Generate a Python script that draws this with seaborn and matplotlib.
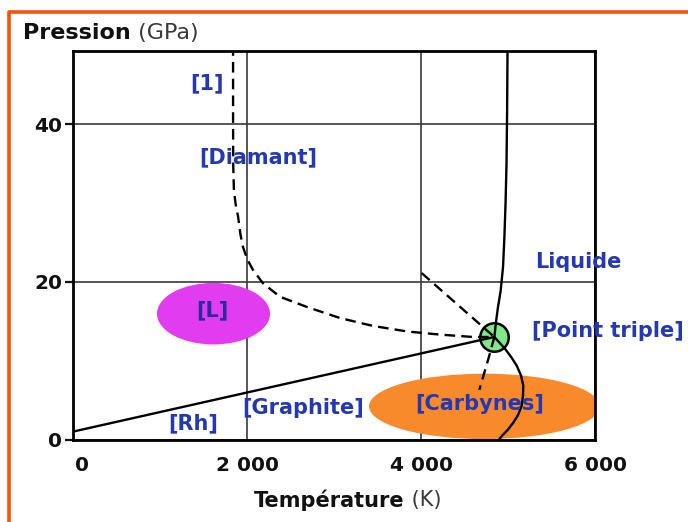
import matplotlib
matplotlib.use("Agg")
import matplotlib.pyplot as plt
from matplotlib.patches import Ellipse
from matplotlib.transforms import ScaledTranslation
import seaborn as sns
import pandas as pd

# ---- data ----
diamant_T = [1840, 1840, 1842, 1850, 1870, 1897, 1925, 1954, 2005, 2069, 2184, 2379,
             2690, 3069, 3448, 3839, 4218, 4598, 4843]
diamant_P = [50.0, 40.0, 34.7, 31.5, 29.8, 28.3, 26.0, 24.4, 22.8, 21.5, 19.8, 18.1,
             16.8, 15.4, 14.4, 13.7, 13.3, 13.0, 13.0]

upper_dash_T = [4008, 4843]
upper_dash_P = [21.1, 13.0]

lower_dash_T = [4843, 4774, 4670]
lower_dash_P = [13.0, 10.2, 6.3]

melt_T = [4995, 4990, 4983, 4972, 4958, 4943, 4915, 4885, 4862, 4843, 4966, 5040, 5100,
          5150, 5176, 5172, 5157, 5115, 5061, 4995, 4928, 4859]
melt_P = [50.0, 42.0, 35.0, 30.0, 25.5, 21.9, 18.8, 16.8, 14.9, 13.0, 11.5, 10.4, 9.37,
          8.1, 6.82, 5.5, 4.27, 3.1, 2.13, 1.2, 0.43, -0.6]

graphite_T = [0, 4843]
graphite_P = [1.0, 13.0]

triple_T = [4843]
triple_P = [13.0]

ell_L = dict(cx=1615, cy=15.95, w=1299, h=7.8)
ell_C = dict(cx=4730, cy=4.2, w=2655, h=8.3)

labels = ["[1]", "[Diamant]", "Liquide", "[Point triple]", "[L]", "[Rh]", "[Graphite]", "[Carbynes]"]
label_T = [1540, 2126, 5805, 6149, 1598, 1379, 2644, 4678]
label_P = [45.1, 35.8, 22.5, 13.7, 16.4, 2.0, 4.0, 4.5]

xticks = [0, 2000, 4000, 6000]
xticklabels = ["0", "2 000", "4 000", "6 000"]
yticks = [0, 20, 40]
yticklabels = ["0", "20", "40"]

# ---- figure ----
sns.set_style("white")
plt.rcParams['font.family'] = ['DejaVu Sans']

fig = plt.figure(figsize=(6.88, 5.22), dpi=100)
W, H = 688, 522
ax = fig.add_axes([73 / W, 1 - 439.5 / H, (595 - 73) / W, (439.5 - 50.7) / H])
ax.set_xlim(0, 6000)
ax.set_ylim(0, 49.3)

ax.set_xticks(xticks, labels=xticklabels)
ax.set_yticks(yticks, labels=yticklabels)
for t in ax.get_xticklabels() + ax.get_yticklabels():
    t.set_fontweight('bold')
ax.tick_params(axis='x', length=0, pad=12, labelsize=14.5, colors='#111111')
ax.tick_params(axis='y', length=6, width=1.6, pad=2, labelsize=14.5, colors='#111111', direction='out', left=True)
# the "0" of the temperature axis sits slightly right of the origin in the reference
ax.get_xticklabels()[0].set_transform(ax.get_xticklabels()[0].get_transform() +
                                      ScaledTranslation(9 / 100, 0, fig.dpi_scale_trans))

ax.grid(True, color='#3a3a3a', lw=1.2)
ax.set_axisbelow(True)
for s in ax.spines.values():
    s.set_visible(True)
    s.set_color('black')
    s.set_linewidth(2.0)

# ellipses
ax.add_patch(Ellipse((ell_L['cx'], ell_L['cy']), ell_L['w'], ell_L['h'],
                     facecolor='#e23cf0', edgecolor='none', zorder=2))
ax.add_patch(Ellipse((ell_C['cx'], ell_C['cy']), ell_C['w'], ell_C['h'],
                     facecolor='#f98a2c', edgecolor='none', zorder=2))

# triple point
sns.scatterplot(x=triple_T, y=triple_P, ax=ax, s=420, color='#80e888',
                edgecolor='black', linewidth=1.8, zorder=3, legend=False)

dash_kw = dict(color='black', lw=1.7, sort=False, estimator=None, zorder=4, legend=False)
for T, P in [(diamant_T, diamant_P), (upper_dash_T, upper_dash_P), (lower_dash_T, lower_dash_P)]:
    df = pd.DataFrame({'T': T, 'P': P})
    l = sns.lineplot(data=df, x='T', y='P', ax=ax, **dash_kw)
    l.lines[-1].set_dashes((4.5, 2.6))

solid_kw = dict(color='black', lw=1.7, sort=False, estimator=None, zorder=4, legend=False)
for T, P in [(melt_T, melt_P), (graphite_T, graphite_P)]:
    df = pd.DataFrame({'T': T, 'P': P})
    sns.lineplot(data=df, x='T', y='P', ax=ax, **solid_kw)

ax.set_xlabel("")
ax.set_ylabel("")

label_colors = ['#2438b4'] * len(labels)
label_colors[labels.index("[L]")] = '#2a2c9c'
for txt, x, y, c in zip(labels, label_T, label_P, label_colors):
    ax.text(x, y, txt, color=c, fontsize=15, fontweight='bold', ha='center', va='center',
            zorder=6, clip_on=False)

# axis titles (bold word + regular unit)
fig.canvas.draw()
r = fig.canvas.get_renderer()

def two_part(x_px, y_px, bold, normal, size):
    t1 = fig.text(x_px / W, 1 - y_px / H, bold, fontsize=size, fontweight='bold',
                  color='#111111', ha='left', va='center')
    bb = t1.get_window_extent(renderer=r)
    fig.text(bb.x1 / W, 1 - y_px / H, " " + normal, fontsize=size, color='#3a3a3a',
             ha='left', va='center')

two_part(23, 33, "Pression", "(GPa)", 16)
two_part(254, 500, "Température", "(K)", 15)

# orange frame (left and top)
fig.add_artist(plt.Line2D([8.5 / W, 8.5 / W, 1.0], [0.0, 1 - 12 / H, 1 - 12 / H],
                          color='#fb520a', lw=2.6, transform=fig.transFigure))

fig.savefig("out.png", dpi=100, facecolor='white')
